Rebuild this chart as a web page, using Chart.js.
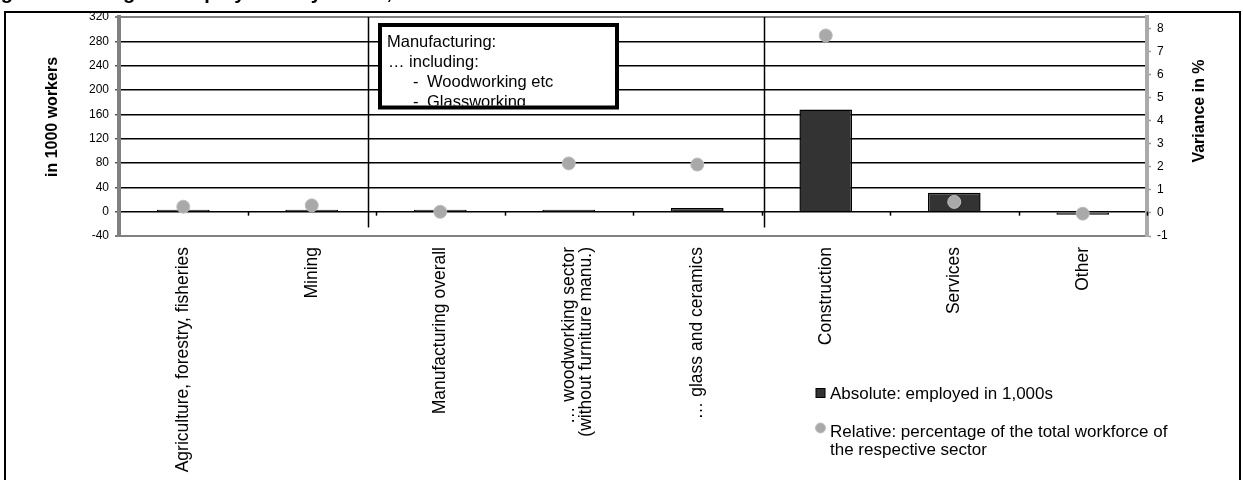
<!DOCTYPE html>
<html>
<head>
<meta charset="utf-8">
<script src="https://cdn.jsdelivr.net/npm/chart.js@4.4.1/dist/chart.umd.min.js"></script>
<style>
  html, body { margin: 0; padding: 0; background: #fff; }
  #wrap { position: relative; width: 1243px; height: 480px; overflow: hidden; }
  #frame { position: absolute; left: 4px; top: 11px; width: 1237px; height: 520px;
           border: 2.5px solid #000; box-sizing: border-box; }
  #c { position: absolute; left: 0; top: 0; }
</style>
</head>
<body>
<div id="wrap">
  <div id="frame"></div>
  <canvas id="c" width="1243" height="480"></canvas>
</div>
<script>
// Sectors on the category axis
const sectors = [
  'Agriculture, forestry, fisheries',
  'Mining',
  'Manufacturing overall',
  ['\u2026 woodworking sector', '(without furniture manu.)'],
  '\u2026 glass and ceramics',
  'Construction',
  'Services',
  'Other'
];

// Absolute change, employed persons in 1,000s (left axis)
const employedThousands = [3, 3, 3, 3, 6, 168, 31, -5];

// Relative change, % of the sector's total workforce (right axis)
const sharePercent = [0.27, 0.33, 0.05, 2.15, 2.1, 7.7, 0.48, -0.03];

// Axis ranges
const workersRange = [-40, 320];
const workersStep = 40;
const percentRange = [-1, 8.5];
const percentStep = 1;

// Texts
const figureTitle = 'Figure 1: Change in employment by sector, absolute and relative';
const seriesNames = ['Absolute: employed in 1,000s',
                     ['Relative: percentage of the total workforce of', 'the respective sector']];
const axisTitles = ['in 1000 workers', 'Variance in %'];
const noteLines = ['Manufacturing:', '\u2026 including:', '-|Woodworking etc', '-|Glassworking'];

// Sector group separators, in category units
const groupBreaks = [1.44, 4.52];

const FONT = 'Arial, "Liberation Sans", sans-serif';
const BAR_FILL = '#333333';
const DOT_FILL = '#a9a9a9';
const AXIS_GREY = '#808080';

const decorations = {
  id: 'decorations',
  beforeDatasetsDraw(chart) {
    const { ctx, chartArea, scales } = chart;
    const x = scales.x, y = scales.y;
    const zero = y.getPixelForValue(0);
    ctx.save();
    // group separators
    ctx.strokeStyle = '#000';
    ctx.lineWidth = 1.5;
    groupBreaks.forEach(v => {
      const px = Math.round(x.getPixelForValue(v)) + 0.5;
      ctx.beginPath();
      ctx.moveTo(px, chartArea.top);
      ctx.lineTo(px, y.getPixelForValue(-26));
      ctx.stroke();
    });
    // category tick marks on the zero line
    for (let k = 1; k <= sectors.length; k++) {
      const px = Math.round(x.getPixelForValue(k - 0.5)) + 0.5;
      ctx.beginPath();
      ctx.moveTo(px, zero);
      ctx.lineTo(px, zero + 4);
      ctx.stroke();
    }
    ctx.restore();
  },
  afterDatasetsDraw(chart) {
    const { ctx } = chart;
    ctx.save();

    // figure title, running off the top edge
    ctx.fillStyle = '#000';
    ctx.font = 'bold 20px ' + FONT;
    ctx.textAlign = 'left';
    ctx.textBaseline = 'alphabetic';
    ctx.fillText(figureTitle, -17, -1.5);

    // note box
    const bx = 380, by = 25, bw = 237, bh = 82.5;
    ctx.fillStyle = '#fff';
    ctx.fillRect(bx, by, bw, bh);
    ctx.save();
    ctx.beginPath();
    ctx.rect(bx, by, bw, bh - 2);
    ctx.clip();
    ctx.fillStyle = '#000';
    ctx.font = '16.5px ' + FONT;
    ctx.textBaseline = 'alphabetic';
    ctx.textAlign = 'left';
    noteLines.forEach((line, i) => {
      const ly = 46.5 + i * 20;
      if (line.indexOf('|') >= 0) {
        const parts = line.split('|');
        ctx.fillText(parts[0], bx + 33, ly);
        ctx.fillText(parts[1], bx + 47, ly);
      } else {
        ctx.fillText(line, bx + (i === 0 ? 7 : 8), ly);
      }
    });
    ctx.restore();
    ctx.strokeStyle = '#000';
    ctx.lineWidth = 4;
    ctx.strokeRect(bx, by, bw, bh);

    // axis titles
    ctx.fillStyle = '#000';
    ctx.font = 'bold 16px ' + FONT;
    ctx.textAlign = 'center';
    ctx.textBaseline = 'middle';
    ctx.save();
    ctx.translate(53, 117);
    ctx.rotate(-Math.PI / 2);
    ctx.fillText(axisTitles[0], 0, 0);
    ctx.restore();
    ctx.save();
    ctx.translate(1200, 111);
    ctx.rotate(-Math.PI / 2);
    ctx.fillText(axisTitles[1], 0, 0);
    ctx.restore();

    // legend
    const ds = chart.data.datasets;
    ctx.font = '17px ' + FONT;
    ctx.textAlign = 'left';
    ctx.textBaseline = 'middle';
    ctx.fillStyle = ds[0].backgroundColor;
    ctx.fillRect(816, 388.5, 9, 9);
    ctx.strokeStyle = ds[0].borderColor;
    ctx.lineWidth = 1;
    ctx.strokeRect(816, 388.5, 9, 9);
    ctx.fillStyle = '#000';
    ctx.fillText(ds[0].label, 830, 394);

    ctx.beginPath();
    ctx.arc(820.5, 428, 5, 0, Math.PI * 2);
    ctx.fillStyle = ds[1].pointBackgroundColor;
    ctx.fill();
    ctx.strokeStyle = ds[1].pointBorderColor;
    ctx.stroke();
    ctx.fillStyle = '#000';
    ds[1].label.forEach((t, i) => ctx.fillText(t, 830, 432 + i * 18));
    ctx.restore();
  }
};

new Chart(document.getElementById('c'), {
  type: 'bar',
  data: {
    labels: sectors,
    datasets: [
      {
        label: seriesNames[0],
        data: employedThousands,
        yAxisID: 'y',
        backgroundColor: BAR_FILL,
        borderColor: '#000',
        borderWidth: 1.5,
        barPercentage: 0.41,
        categoryPercentage: 1,
        order: 2
      },
      {
        type: 'line',
        label: seriesNames[1],
        data: sharePercent,
        yAxisID: 'y1',
        showLine: false,
        pointRadius: 6.5,
        pointBackgroundColor: DOT_FILL,
        pointBorderColor: '#bdbdbd',
        pointBorderWidth: 1,
        order: 1
      }
    ]
  },
  options: {
    responsive: false,
    animation: false,
    events: [],
    layout: { padding: { top: 17, left: 0, right: 0, bottom: 0 } },
    plugins: { legend: { display: false }, tooltip: { enabled: false }, title: { display: false } },
    scales: {
      x: {
        grid: { display: false },
        border: { display: false },
        ticks: {
          autoSkip: false,
          minRotation: 90,
          maxRotation: 90,
          padding: 3,
          color: '#000',
          font: { family: FONT, size: 17.5, lineHeight: 1.0 }
        },
        afterFit(s) { s.height = 244; }
      },
      y: {
        position: 'left',
        min: workersRange[0],
        max: workersRange[1],
        ticks: {
          stepSize: workersStep,
          padding: 6,
          color: '#000',
          font: { family: FONT, size: 12 }
        },
        grid: {
          color: c => (c.tick && (c.tick.value === workersRange[0] || c.tick.value === workersRange[1])) ? AXIS_GREY : '#000',
          lineWidth: c => (c.tick && (c.tick.value === workersRange[0] || c.tick.value === workersRange[1])) ? 2 : 1.5,
          tickColor: '#555',
          tickLength: 4,
          tickWidth: 1.5
        },
        border: { display: true, color: AXIS_GREY, width: 4 },
        afterFit(s) { s.width = 119; }
      },
      y1: {
        position: 'right',
        min: percentRange[0],
        max: percentRange[1],
        ticks: {
          stepSize: percentStep,
          includeBounds: false,
          padding: 6,
          color: '#000',
          font: { family: FONT, size: 12 }
        },
        grid: { drawOnChartArea: false, tickColor: '#999', tickLength: 4, tickWidth: 1.5 },
        border: { display: true, color: '#aaaaaa', width: 4 },
        afterFit(s) { s.width = 96; }
      }
    }
  },
  plugins: [decorations]
});
</script>
</body>
</html>
